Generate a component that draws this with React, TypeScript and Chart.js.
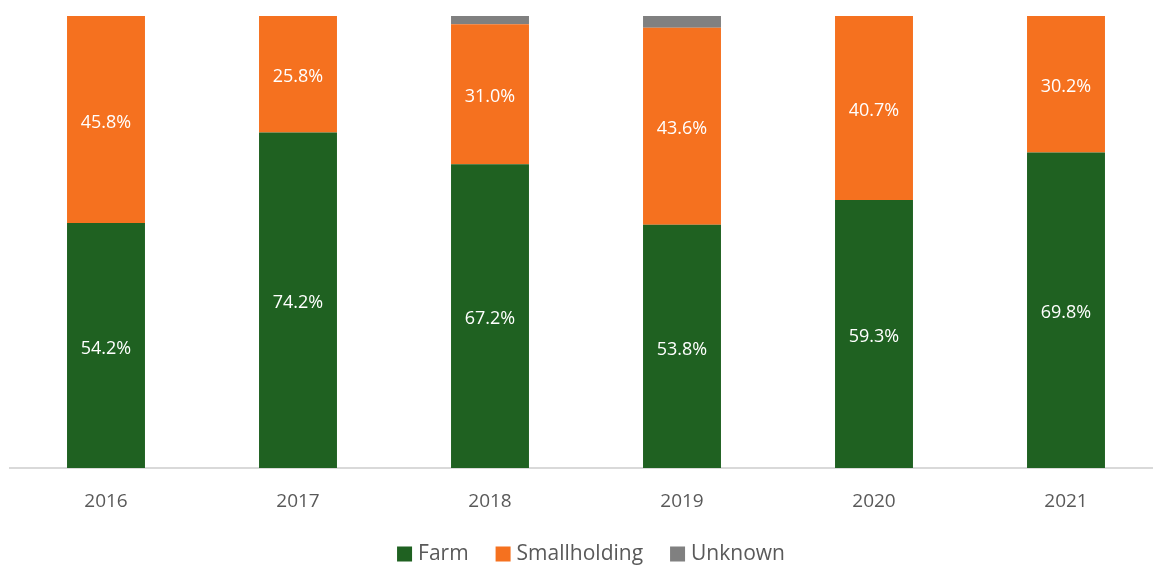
import React, { useEffect, useRef } from "react";
import { Chart, registerables } from "chart.js";

Chart.register(...registerables);

const categories = ["2016", "2017", "2018", "2019", "2020", "2021"];
const farm = [54.2, 74.2, 67.2, 53.8, 59.3, 69.8];
const smallholding = [45.8, 25.8, 31.0, 43.6, 40.7, 30.2];
const unknown = [0, 0, 1.8, 2.6, 0, 0];
const seriesNames = ["Farm", "Smallholding", "Unknown"];
const seriesColors = ["#1f6121", "#f5711f", "#808080"];

const FONT = "'Open Sans', Lato, sans-serif";

const labelPlugin = {
  id: "segLabels",
  afterDatasetsDraw(chart: any) {
    const ctx = chart.ctx;
    ctx.save();
    ctx.fillStyle = "#ffffff";
    ctx.font = `18px ${FONT}`;
    ctx.textAlign = "center";
    ctx.textBaseline = "middle";
    [0, 1].forEach((di) => {
      const meta = chart.getDatasetMeta(di);
      const data = chart.data.datasets[di].data as number[];
      meta.data.forEach((bar: any, i: number) => {
        const v = data[i];
        if (!v) return;
        const { x, y, base } = bar.getProps(["x", "y", "base"], true);
        ctx.fillText(v.toFixed(1) + "%", x, (y + base) / 2 + 3);
      });
    });
    ctx.restore();
  },
};

const legendPlugin = {
  id: "customLegend",
  afterDraw(chart: any) {
    const ctx = chart.ctx;
    ctx.save();
    ctx.font = `21px ${FONT}`;
    ctx.textBaseline = "middle";
    ctx.textAlign = "left";
    const box = 15;
    const gapBoxText = 6;
    const gapItems = 27;
    const widths = chart.data.datasets.map((d: any) => ctx.measureText(d.label).width);
    const total =
      widths.reduce((a: number, w: number) => a + box + gapBoxText + w, 0) + gapItems * (widths.length - 1);
    const cy = 554;
    let x = 591 - total / 2;
    chart.data.datasets.forEach((d: any, i: number) => {
      ctx.fillStyle = d.backgroundColor;
      ctx.fillRect(x, cy - box / 2, box, box);
      x += box + gapBoxText;
      ctx.fillStyle = "#595959";
      ctx.fillText(d.label, x, cy);
      x += widths[i] + gapItems;
    });
    ctx.restore();
  },
};

export default function App() {
  const ref = useRef<HTMLCanvasElement | null>(null);
  useEffect(() => {
    if (!ref.current) return;
    const chart = new Chart(ref.current, {
      type: "bar",
      data: {
        labels: categories,
        datasets: [
          { label: seriesNames[0], data: farm, backgroundColor: seriesColors[0] },
          { label: seriesNames[1], data: smallholding, backgroundColor: seriesColors[1] },
          { label: seriesNames[2], data: unknown, backgroundColor: seriesColors[2] },
        ],
      },
      options: {
        animation: false,
        responsive: true,
        maintainAspectRatio: false,
        layout: { padding: { left: 10, right: 10, top: 16, bottom: 0 } },
        datasets: { bar: { barPercentage: 0.812, categoryPercentage: 0.5 } },
        scales: {
          x: {
            stacked: true,
            grid: { display: false },
            border: { display: true, color: "#d9d9d9", width: 2 },
            ticks: { color: "#595959", font: { size: 19, family: FONT }, padding: 14 },
            afterFit: (scale: any) => {
              scale.height = 97;
            },
          },
          y: {
            stacked: true,
            display: false,
            min: 0,
            max: 100,
          },
        },
        plugins: {
          legend: { display: false },
          tooltip: { enabled: false },
        },
      },
      plugins: [labelPlugin, legendPlugin],
    });
    return () => chart.destroy();
  }, []);
  return (
    <div style={{ position: "fixed", left: 0, top: 0, width: 1153, height: 565, overflow: "hidden", background: "#fff" }}>
      <div style={{ width: 1172, height: 565, position: "relative" }}>
        <canvas ref={ref} />
      </div>
    </div>
  );
}
